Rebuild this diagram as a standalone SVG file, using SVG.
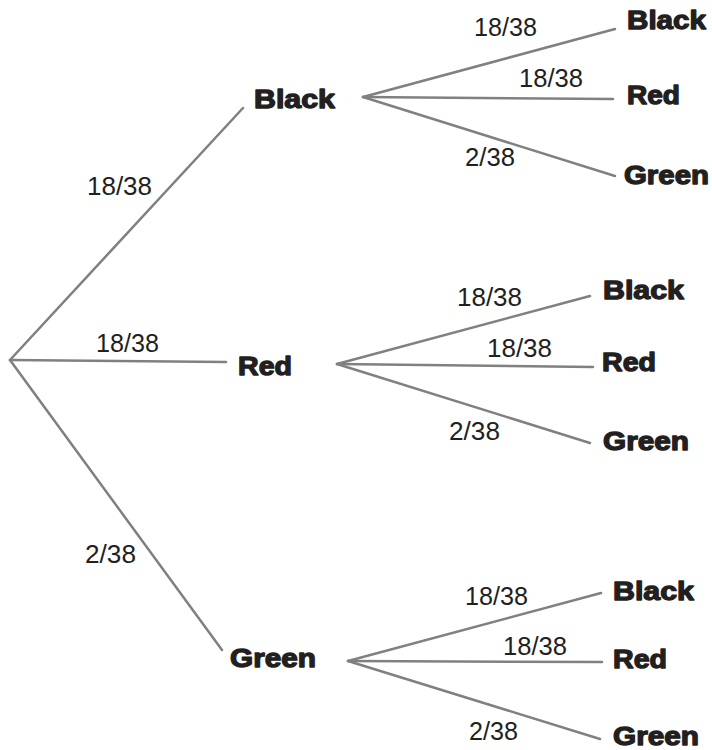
<svg xmlns="http://www.w3.org/2000/svg" width="712" height="750" viewBox="0 0 712 750">
<style>
.e{stroke:#808080;stroke-width:2.5;fill:none;stroke-linecap:round}
.p{font-family:"Liberation Sans",Arial,sans-serif;font-size:25px;fill:#231f20}
.n{font-family:"Liberation Sans",Arial,sans-serif;font-size:26px;font-weight:bold;fill:#231f20;stroke:#231f20;stroke-width:1.3;stroke-linejoin:round}
</style>
<rect width="712" height="750" fill="#ffffff"/>
<g id="connectors">
<line class="e" x1="10" y1="360" x2="243" y2="108"/>
<line class="e" x1="10" y1="360" x2="226" y2="362"/>
<line class="e" x1="10" y1="360" x2="222" y2="650"/>
<line class="e" x1="363" y1="97" x2="615" y2="29"/>
<line class="e" x1="363" y1="97" x2="613" y2="99"/>
<line class="e" x1="363" y1="97" x2="615" y2="176"/>
<line class="e" x1="337" y1="364" x2="590" y2="296"/>
<line class="e" x1="337" y1="364" x2="593" y2="367"/>
<line class="e" x1="337" y1="364" x2="590" y2="443"/>
<line class="e" x1="348" y1="661" x2="601" y2="593"/>
<line class="e" x1="348" y1="661" x2="602" y2="662"/>
<line class="e" x1="348" y1="661" x2="600" y2="739"/>
</g>
<g id="edge-labels">
<text class="p" x="87" y="195" textLength="65" lengthAdjust="spacingAndGlyphs">18/38</text>
<text class="p" x="96" y="352" textLength="63" lengthAdjust="spacingAndGlyphs">18/38</text>
<text class="p" x="85" y="563" textLength="51" lengthAdjust="spacingAndGlyphs">2/38</text>
<text class="p" x="474" y="36" textLength="63" lengthAdjust="spacingAndGlyphs">18/38</text>
<text class="p" x="519" y="87" textLength="64" lengthAdjust="spacingAndGlyphs">18/38</text>
<text class="p" x="465" y="166" textLength="50" lengthAdjust="spacingAndGlyphs">2/38</text>
<text class="p" x="457" y="306" textLength="65" lengthAdjust="spacingAndGlyphs">18/38</text>
<text class="p" x="487" y="357" textLength="65" lengthAdjust="spacingAndGlyphs">18/38</text>
<text class="p" x="449" y="440" textLength="51" lengthAdjust="spacingAndGlyphs">2/38</text>
<text class="p" x="465" y="605" textLength="63" lengthAdjust="spacingAndGlyphs">18/38</text>
<text class="p" x="503" y="655" textLength="64" lengthAdjust="spacingAndGlyphs">18/38</text>
<text class="p" x="469" y="740" textLength="49" lengthAdjust="spacingAndGlyphs">2/38</text>
</g>
<g id="node-black"><text class="n" x="254" y="108" textLength="81" lengthAdjust="spacingAndGlyphs">Black</text></g>
<g id="node-red"><text class="n" x="238" y="375" textLength="54" lengthAdjust="spacingAndGlyphs">Red</text></g>
<g id="node-green"><text class="n" x="230" y="667" textLength="86" lengthAdjust="spacingAndGlyphs">Green</text></g>
<g id="node-black-black"><text class="n" x="627" y="29" textLength="79" lengthAdjust="spacingAndGlyphs">Black</text></g>
<g id="node-black-red"><text class="n" x="627" y="104" textLength="53" lengthAdjust="spacingAndGlyphs">Red</text></g>
<g id="node-black-green"><text class="n" x="624" y="184" textLength="85" lengthAdjust="spacingAndGlyphs">Green</text></g>
<g id="node-red-black"><text class="n" x="603" y="299" textLength="81" lengthAdjust="spacingAndGlyphs">Black</text></g>
<g id="node-red-red"><text class="n" x="602" y="371" textLength="54" lengthAdjust="spacingAndGlyphs">Red</text></g>
<g id="node-red-green"><text class="n" x="603" y="450" textLength="86" lengthAdjust="spacingAndGlyphs">Green</text></g>
<g id="node-green-black"><text class="n" x="613" y="600" textLength="81" lengthAdjust="spacingAndGlyphs">Black</text></g>
<g id="node-green-red"><text class="n" x="613" y="668" textLength="54" lengthAdjust="spacingAndGlyphs">Red</text></g>
<g id="node-green-green"><text class="n" x="613" y="745" textLength="86" lengthAdjust="spacingAndGlyphs">Green</text></g>
</svg>
